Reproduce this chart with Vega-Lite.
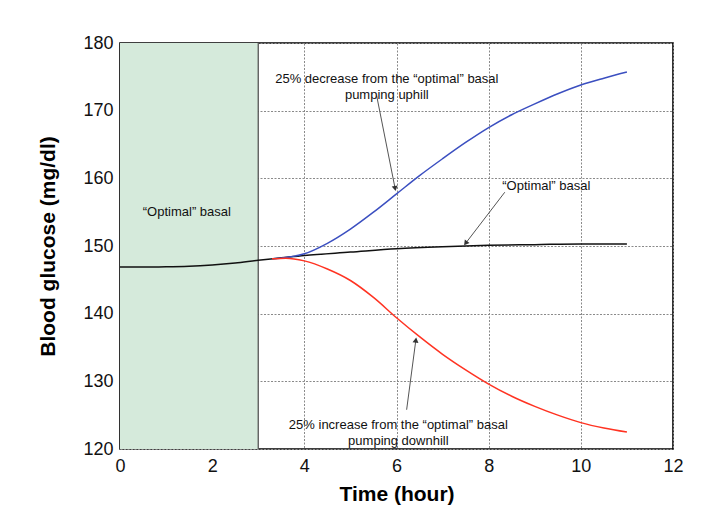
{
  "$schema": "https://vega.github.io/schema/vega-lite/v6.json",
  "width": 553,
  "height": 406,
  "autosize": {"type": "none"},
  "padding": {"left": 120, "top": 43, "right": 28, "bottom": 70},
  "background": "white",
  "config": {
    "view": {"stroke": "#000", "strokeWidth": 1.6},
    "font": "Liberation Sans",
    "axis": {
      "labelFont": "Liberation Sans",
      "titleFont": "Liberation Sans",
      "labelFontSize": 18,
      "labelColor": "#111",
      "labelFlush": false,
      "titleFontSize": 21,
      "titleFontWeight": "bold",
      "titleColor": "#000",
      "ticks": false,
      "domain": false,
      "gridColor": "#8a8a8a",
      "gridDash": [2, 1.5],
      "gridWidth": 1,
      "gridOpacity": 1
    }
  },
  "datasets": {
    "curves": [
      {"t": 0, "g": 146.9, "s": "optimal"},
      {"t": 0.5, "g": 146.9, "s": "optimal"},
      {"t": 1, "g": 146.92, "s": "optimal"},
      {"t": 1.5, "g": 147.0, "s": "optimal"},
      {"t": 2, "g": 147.2, "s": "optimal"},
      {"t": 2.5, "g": 147.5, "s": "optimal"},
      {"t": 3, "g": 147.9, "s": "optimal"},
      {"t": 3.5, "g": 148.25, "s": "optimal"},
      {"t": 4, "g": 148.6, "s": "optimal"},
      {"t": 5, "g": 149.1, "s": "optimal"},
      {"t": 6, "g": 149.6, "s": "optimal"},
      {"t": 7, "g": 149.9, "s": "optimal"},
      {"t": 8, "g": 150.1, "s": "optimal"},
      {"t": 9, "g": 150.2, "s": "optimal"},
      {"t": 10, "g": 150.3, "s": "optimal"},
      {"t": 11, "g": 150.3, "s": "optimal"},
      {"t": 3.3, "g": 148.1, "s": "uphill"},
      {"t": 3.6, "g": 148.3, "s": "uphill"},
      {"t": 4, "g": 148.85, "s": "uphill"},
      {"t": 4.5, "g": 150.4, "s": "uphill"},
      {"t": 5, "g": 152.5, "s": "uphill"},
      {"t": 5.5, "g": 155.0, "s": "uphill"},
      {"t": 6, "g": 157.7, "s": "uphill"},
      {"t": 6.5, "g": 160.4, "s": "uphill"},
      {"t": 7, "g": 162.9, "s": "uphill"},
      {"t": 7.5, "g": 165.3, "s": "uphill"},
      {"t": 8, "g": 167.5, "s": "uphill"},
      {"t": 8.5, "g": 169.4, "s": "uphill"},
      {"t": 9, "g": 171.0, "s": "uphill"},
      {"t": 9.5, "g": 172.5, "s": "uphill"},
      {"t": 10, "g": 173.8, "s": "uphill"},
      {"t": 10.5, "g": 174.8, "s": "uphill"},
      {"t": 11, "g": 175.7, "s": "uphill"},
      {"t": 3.3, "g": 148.1, "s": "downhill"},
      {"t": 3.6, "g": 148.2, "s": "downhill"},
      {"t": 4, "g": 147.8, "s": "downhill"},
      {"t": 4.5, "g": 146.6, "s": "downhill"},
      {"t": 5, "g": 144.9, "s": "downhill"},
      {"t": 5.5, "g": 142.4, "s": "downhill"},
      {"t": 6, "g": 139.4, "s": "downhill"},
      {"t": 6.5, "g": 136.6, "s": "downhill"},
      {"t": 7, "g": 134.0, "s": "downhill"},
      {"t": 7.5, "g": 131.7, "s": "downhill"},
      {"t": 8, "g": 129.6, "s": "downhill"},
      {"t": 8.5, "g": 127.8, "s": "downhill"},
      {"t": 9, "g": 126.3, "s": "downhill"},
      {"t": 9.5, "g": 125.0, "s": "downhill"},
      {"t": 10, "g": 123.9, "s": "downhill"},
      {"t": 10.5, "g": 123.1, "s": "downhill"},
      {"t": 11, "g": 122.5, "s": "downhill"}
    ],
    "arrows": [
      {"id": "up", "x": 5.57, "y": 172.2, "x2": 5.97, "y2": 158.5},
      {"id": "opt", "x": 8.35, "y": 157.95, "x2": 7.5, "y2": 150.4},
      {"id": "down", "x": 6.22, "y": 125.8, "x2": 6.42, "y2": 136.1}
    ],
    "notes": [
      {"x": 5.79, "y": 174.65, "text": ["25% decrease from the \u201coptimal\u201d basal", "pumping uphill"]},
      {"x": 6.04, "y": 123.5, "text": ["25% increase from the \u201coptimal\u201d basal", "pumping downhill"]},
      {"x": 9.25, "y": 158.8, "text": ["\u201cOptimal\u201d basal"]},
      {"x": 1.45, "y": 155.0, "text": ["\u201cOptimal\u201d basal"]}
    ]
  },
  "layer": [
    {
      "data": {"values": [{"x0": 0, "x1": 3, "y0": 120, "y1": 180}]},
      "mark": {"type": "rect", "color": "#d5eadb"},
      "encoding": {
        "x": {
          "field": "x0", "type": "quantitative",
          "scale": {"domain": [0, 12], "nice": false, "zero": false},
          "axis": {"values": [0, 2, 4, 6, 8, 10, 12], "title": "Time (hour)", "labelPadding": 8, "titlePadding": 8, "grid": true}
        },
        "x2": {"field": "x1"},
        "y": {
          "field": "y0", "type": "quantitative",
          "scale": {"domain": [120, 180], "nice": false, "zero": false},
          "axis": {"values": [120, 130, 140, 150, 160, 170, 180], "title": "Blood glucose (mg/dl)", "labelPadding": 7, "titlePadding": 24, "grid": true}
        },
        "y2": {"field": "y1"}
      }
    },
    {
      "data": {"values": [{"x": 3}]},
      "mark": {"type": "rule", "color": "#555", "strokeWidth": 1.3},
      "encoding": {"x": {"field": "x", "type": "quantitative"}}
    },
    {
      "data": {"name": "curves"},
      "mark": {"type": "line", "interpolate": "monotone", "strokeWidth": 1.5},
      "encoding": {
        "x": {"field": "t", "type": "quantitative"},
        "y": {"field": "g", "type": "quantitative"},
        "color": {
          "field": "s", "type": "nominal",
          "scale": {"domain": ["optimal", "uphill", "downhill"], "range": ["#111111", "#3b4fc0", "#ff3322"]},
          "legend": null
        }
      }
    },
    {
      "data": {"name": "arrows"},
      "mark": {"type": "rule", "color": "#555", "strokeWidth": 1},
      "encoding": {
        "x": {"field": "x", "type": "quantitative"},
        "y": {"field": "y", "type": "quantitative"},
        "x2": {"field": "x2"},
        "y2": {"field": "y2"}
      }
    },
    {
      "data": {"name": "arrows"},
      "transform": [{"filter": "datum.id == 'up'"}],
      "mark": {"type": "point", "shape": "triangle-up", "filled": true, "color": "#333", "size": 35, "angle": 169, "opacity": 1},
      "encoding": {"x": {"field": "x2", "type": "quantitative"}, "y": {"field": "y2", "type": "quantitative"}}
    },
    {
      "data": {"name": "arrows"},
      "transform": [{"filter": "datum.id == 'opt'"}],
      "mark": {"type": "point", "shape": "triangle-up", "filled": true, "color": "#333", "size": 35, "angle": 217, "opacity": 1},
      "encoding": {"x": {"field": "x2", "type": "quantitative"}, "y": {"field": "y2", "type": "quantitative"}}
    },
    {
      "data": {"name": "arrows"},
      "transform": [{"filter": "datum.id == 'down'"}],
      "mark": {"type": "point", "shape": "triangle-up", "filled": true, "color": "#333", "size": 35, "angle": 8, "opacity": 1},
      "encoding": {"x": {"field": "x2", "type": "quantitative"}, "y": {"field": "y2", "type": "quantitative"}}
    },
    {
      "data": {"name": "notes"},
      "mark": {"type": "text", "fontSize": 13, "font": "Liberation Sans", "color": "#111", "align": "center", "baseline": "middle", "lineHeight": 16},
      "encoding": {
        "x": {"field": "x", "type": "quantitative"},
        "y": {"field": "y", "type": "quantitative"},
        "text": {"field": "text"}
      }
    }
  ]
}
